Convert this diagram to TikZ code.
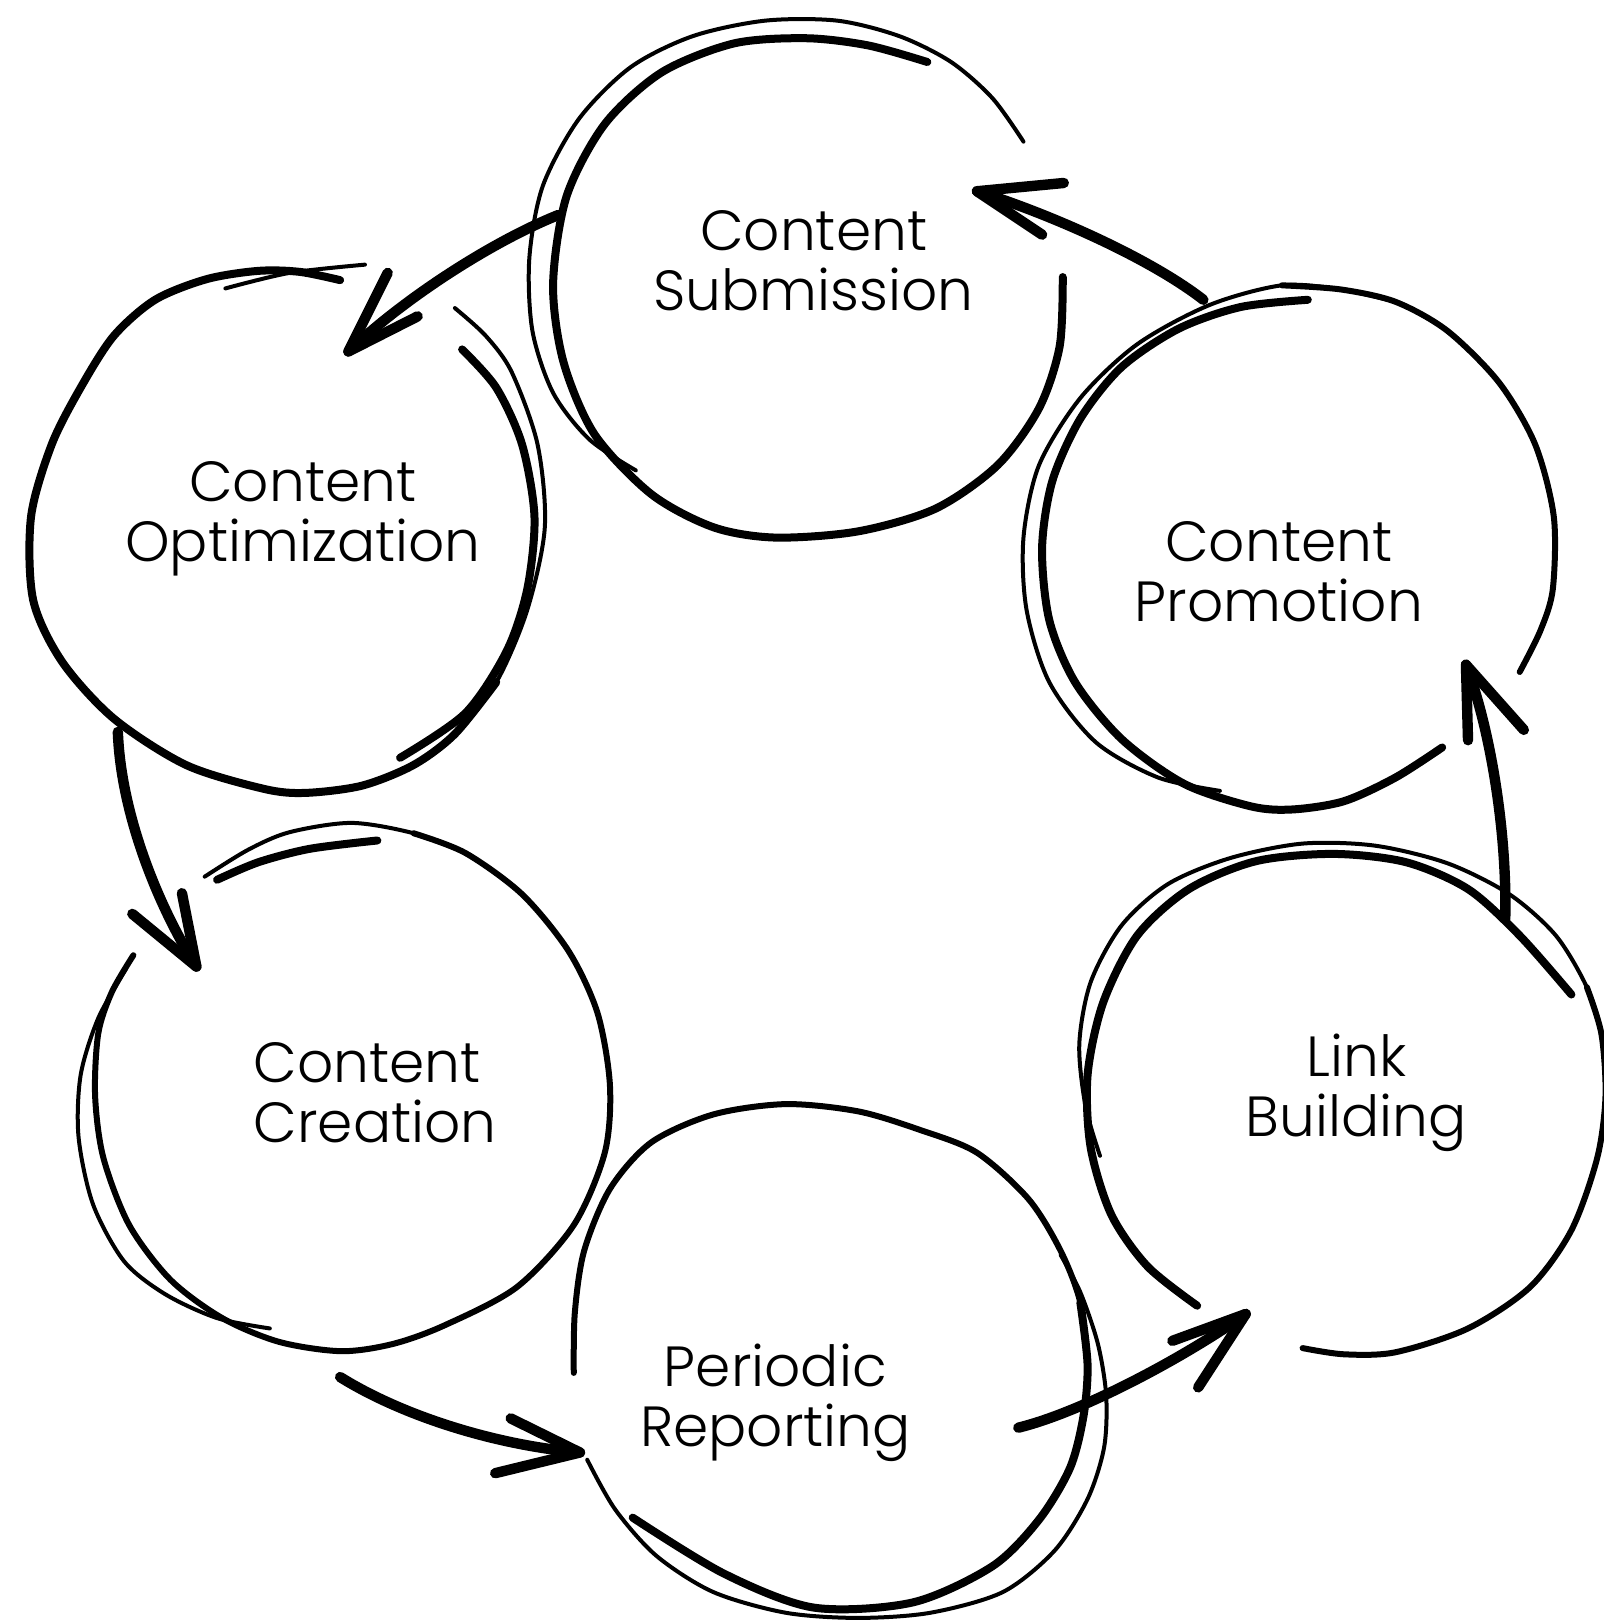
\documentclass[tikz,border=0pt]{standalone}
\usepackage{fontspec}
\setmainfont{Poppins Light}
\begin{document}
\begin{tikzpicture}[x=0.5168pt,y=-0.5168pt,
  pthin/.style={line width=2pt,line cap=round,line join=round},
  pmid/.style={line width=3pt,line cap=round,line join=round},
  pheavy/.style={line width=4pt,line cap=round,line join=round},
  parrow/.style={line width=5.2pt,line cap=round,line join=round},
  lbl/.style={inner sep=0pt,align=center,font=\fontsize{28.3}{30}\selectfont}]
\useasboundingbox[fill=white] (0,0) rectangle (1551,1568);

% ---------- labels ----------
\node[lbl] (sub) at (787,252) {Content\\Submission};
\node[lbl] (opt) at (293,502) {Content\\Optimization};
\node[lbl] (pro) at (1237,553) {Content\\Promotion};
\node[lbl] (link) at (1312,1057) {Link\\Building};
\node[lbl,align=left,anchor=west] (cre) at (245,1057) {Content\\Creation};
\node[lbl] (rep) at (750,1357) {Periodic\\Reporting};

% ---------- Content Submission ----------
\draw[pheavy] plot[smooth] coordinates {(897,60) (840,44) (780,37) (710,42) (640,70) (585,120) (548,190) (535,275) (545,350) (575,420) (630,478) (690,510) (750,520) (830,514) (905,492) (965,450) (1005,395) (1025,335) (1028,268)};
\draw[pthin] plot[smooth] coordinates {(990,137) (960,95) (920,60) (870,35) (810,20) (740,20) (670,35) (610,65) (560,115) (525,180) (512,250) (515,320) (535,380) (570,425) (615,455)};

% ---------- Content Optimization ----------
\draw[pheavy] plot[smooth] coordinates {(329,271) (290,263) (250,262) (200,270) (150,290) (110,325) (78,375) (50,430) (30,500) (32,580) (60,640) (110,695) (180,740) (255,763) (295,767) (350,760) (400,740) (440,710) (480,660)};
\draw[pthin] plot[smooth] coordinates {(440,710) (480,660) (510,590) (527,510) (520,430) (495,360) (470,325) (440,298)};
\draw[pheavy] plot[smooth] coordinates {(447,338) (480,375) (505,430) (517,500) (510,570) (490,630) (450,690) (387,733)};
\draw[pthin] plot[smooth] coordinates {(218,279) (280,264) (353,256)};

% ---------- Content Creation ----------
\draw[pmid] plot[smooth] coordinates {(129,924) (108,960) (95,1000) (92,1060) (100,1120) (125,1185) (165,1238) (215,1275) (270,1298) (330,1307) (380,1300) (430,1282) (500,1245) (555,1185) (585,1115) (590,1050) (578,980) (550,920) (505,865) (450,825) (400,806)};
\draw[pthin] plot[smooth] coordinates {(450,825) (400,806) (340,796) (280,805) (240,822) (198,848)};
\draw[pheavy] plot[smooth] coordinates {(210,851) (250,834) (300,821) (365,813)};
\draw[pthin] plot[smooth] coordinates {(122,937) (95,985) (78,1040) (76,1100) (90,1165) (120,1220) (160,1252) (210,1275) (261,1285)};

% ---------- Periodic Reporting ----------
\draw[pmid] plot[smooth] coordinates {(555,1328) (556,1270) (565,1210) (590,1150) (630,1105) (690,1078) (760,1068) (830,1075) (890,1093) (945,1115) (995,1160) (1026,1210) (1045,1260) (1052,1320)};
\draw[pheavy] plot[smooth] coordinates {(1045,1260) (1052,1320) (1048,1370) (1035,1420) (1005,1470) (960,1515) (883,1550) (787,1555) (700,1522) (612,1468)};
\draw[pthin] plot[smooth] coordinates {(1026,1214) (1045,1250) (1062,1300) (1070,1350) (1068,1400) (1052,1450) (1020,1500) (970,1540) (900,1560) (830,1565) (760,1560) (690,1540) (635,1505) (595,1460) (568,1412)};

% ---------- Link Building ----------
\draw[pthin] plot[smooth] coordinates {(1064,1118) (1050,1070) (1044,1010) (1055,950) (1085,895) (1130,855) (1190,830) (1260,816) (1330,818) (1400,835) (1460,865) (1505,905) (1535,955) (1549,1000) (1553,1060)};
\draw[pmid] plot[smooth] coordinates {(1535,955) (1549,1000) (1553,1060) (1545,1120) (1520,1190) (1480,1245) (1420,1285) (1350,1308) (1300,1310) (1260,1304)};
\draw[pheavy] plot[smooth] coordinates {(1158,1263) (1110,1225) (1075,1175) (1055,1110) (1052,1040) (1067,970) (1100,905) (1150,860) (1215,833) (1290,826) (1360,834) (1420,860) (1470,905) (1520,962)};

% ---------- Content Promotion ----------
\draw[pheavy] plot[smooth] coordinates {(1265,290) (1200,297) (1140,318) (1085,355) (1045,405) (1018,465) (1008,530) (1015,600) (1040,660) (1085,715) (1145,758) (1210,780) (1250,783) (1300,775) (1350,752) (1395,723)};
\draw[pthin] plot[smooth] coordinates {(1180,765) (1120,752) (1060,718) (1015,660) (993,590) (990,520) (1005,450) (1045,385) (1100,333) (1170,295) (1240,276) (1297,280) (1350,292)};
\draw[pmid] plot[smooth] coordinates {(1240,276) (1297,280) (1350,292) (1400,320) (1450,370) (1485,430) (1503,500) (1502,570) (1490,610) (1470,650)};

% ---------- arrows ----------
\coordinate (a1s) at (540,208);  \coordinate (a1t) at (337,340);
\coordinate (a1b) at (375,264);  \coordinate (a1c) at (404,306);
\coordinate (a2s) at (114,708);  \coordinate (a2t) at (190,935);
\coordinate (a2b) at (176,864);  \coordinate (a2c) at (128,884);
\coordinate (a3s) at (329,1332); \coordinate (a3t) at (561,1405);
\coordinate (a3b) at (494,1372); \coordinate (a3c) at (479,1425);
\coordinate (a4s) at (985,1381); \coordinate (a4t) at (1205,1271);
\coordinate (a4b) at (1134,1297);\coordinate (a4c) at (1159,1342);
\coordinate (a5s) at (1456,889); \coordinate (a5t) at (1418,643);
\coordinate (a5b) at (1420,716); \coordinate (a5c) at (1474,706);
\coordinate (a6s) at (1164,290); \coordinate (a6t) at (945,185);
\coordinate (a6b) at (1029,177); \coordinate (a6c) at (1008,227);

\draw[parrow] (a1s) .. controls (480,232) and (395,285) .. (a1t);
\draw[parrow] (a1b) -- (a1t) -- (a1c);
\draw[parrow] (a2s) .. controls (117,790) and (155,880) .. (a2t);
\draw[parrow] (a2b) -- (a2t) -- (a2c);
\draw[parrow] (a3s) .. controls (390,1370) and (480,1398) .. (a3t);
\draw[parrow] (a3b) -- (a3t) -- (a3c);
\draw[parrow] (a4s) .. controls (1050,1365) and (1150,1310) .. (a4t);
\draw[parrow] (a4b) -- (a4t) -- (a4c);
\draw[parrow] (a5s) .. controls (1458,800) and (1440,700) .. (a5t);
\draw[parrow] (a5b) -- (a5t) -- (a5c);
\draw[parrow] (a6s) .. controls (1110,248) and (1010,205) .. (a6t);
\draw[parrow] (a6b) -- (a6t) -- (a6c);
\end{tikzpicture}
\end{document}
